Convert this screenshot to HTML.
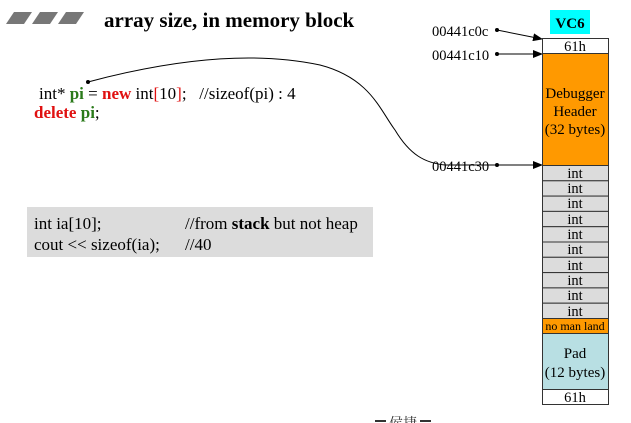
<!DOCTYPE html>
<html><head><meta charset="utf-8"><style>
html,body{margin:0;padding:0;background:#fff;width:631px;height:423px;overflow:hidden}
svg{display:block}
text{font-family:"Liberation Serif","Noto Serif CJK SC",serif;white-space:pre}
</style></head><body>
<svg width="631" height="423" viewBox="0 0 631 423" xmlns="http://www.w3.org/2000/svg">
<defs><marker id="ah" markerWidth="10" markerHeight="8" refX="9" refY="4" orient="auto" markerUnits="userSpaceOnUse"><path d="M0,0 L10,4 L0,8 Z" fill="#000"/></marker></defs>
<polygon points="6,24 14,12 32,12 24,24" fill="#777"/>
<polygon points="32,24 40,12 58,12 50,24" fill="#777"/>
<polygon points="58,24 66,12 84,12 76,24" fill="#777"/>
<text x="104" y="27" font-size="21" font-weight="bold">array size, in memory block</text>
<text x="39" y="99" font-size="17" xml:space="preserve">int* <tspan fill="#2a7a1a" font-weight="bold">pi</tspan> = <tspan fill="#e01010" font-weight="bold">new</tspan> int<tspan fill="#e01010">[</tspan>10<tspan fill="#e01010">]</tspan>;   //sizeof(pi) : 4</text>
<text x="34" y="118" font-size="17"><tspan fill="#e01010" font-weight="bold">delete</tspan> <tspan fill="#2a7a1a" font-weight="bold">pi</tspan>;</text>
<path d="M88,82 C170,60 250,50 320,65 C370,78 380,110 395,130 C410,155 425,163 445,165 L542,165" fill="none" stroke="#000" stroke-width="1" marker-end="url(#ah)"/>
<circle cx="88" cy="82" r="2" fill="#000"/>
<rect x="27" y="207" width="346" height="50" fill="#dcdcdc"/>
<text x="34" y="229" font-size="17">int ia[10];</text>
<text x="185" y="229" font-size="17">//from <tspan font-weight="bold">stack</tspan> but not heap</text>
<text x="34" y="250" font-size="17">cout &lt;&lt; sizeof(ia);</text>
<text x="185" y="250" font-size="17">//40</text>
<rect x="550" y="10" width="40" height="24" fill="#00ffff"/>
<text x="570" y="28" font-size="15" font-weight="bold" text-anchor="middle">VC6</text>
<text x="432" y="36" font-size="14.5">00441c0c</text>
<circle cx="497" cy="30" r="2" fill="#000"/>
<line x1="497" y1="30" x2="542" y2="39" stroke="#000" marker-end="url(#ah)"/>
<text x="432" y="60" font-size="14.5">00441c10</text>
<circle cx="497" cy="54" r="2" fill="#000"/>
<line x1="497" y1="54" x2="542" y2="54" stroke="#000" marker-end="url(#ah)"/>
<text x="432" y="171" font-size="14.5">00441c30</text>
<circle cx="497" cy="165" r="2" fill="#000"/>
<g stroke="#333" stroke-width="1">
<rect x="542.5" y="38.5" width="66" height="15" fill="#fff"/>
<rect x="542.5" y="53.5" width="66" height="112" fill="#ff9900"/>
<rect x="542.5" y="165.5" width="66" height="15.3" fill="#dcdcdc"/>
<rect x="542.5" y="180.8" width="66" height="15.3" fill="#dcdcdc"/>
<rect x="542.5" y="196.1" width="66" height="15.3" fill="#dcdcdc"/>
<rect x="542.5" y="211.4" width="66" height="15.3" fill="#dcdcdc"/>
<rect x="542.5" y="226.7" width="66" height="15.3" fill="#dcdcdc"/>
<rect x="542.5" y="242" width="66" height="15.3" fill="#dcdcdc"/>
<rect x="542.5" y="257.3" width="66" height="15.3" fill="#dcdcdc"/>
<rect x="542.5" y="272.6" width="66" height="15.3" fill="#dcdcdc"/>
<rect x="542.5" y="287.9" width="66" height="15.3" fill="#dcdcdc"/>
<rect x="542.5" y="303.2" width="66" height="15.3" fill="#dcdcdc"/>
<rect x="542.5" y="318.5" width="66" height="15" fill="#ff9900"/>
<rect x="542.5" y="333.5" width="66" height="56" fill="#b8dfe3"/>
<rect x="542.5" y="389.5" width="66" height="15" fill="#fff"/>
</g>
<g font-size="14.5" text-anchor="middle">
<text x="575" y="51">61h</text>
<text x="575" y="98" font-size="15">Debugger</text>
<text x="575" y="116" font-size="15">Header</text>
<text x="575" y="134" font-size="15">(32 bytes)</text>
<text x="575" y="178">int</text>
<text x="575" y="193">int</text>
<text x="575" y="208">int</text>
<text x="575" y="224">int</text>
<text x="575" y="239">int</text>
<text x="575" y="254">int</text>
<text x="575" y="270">int</text>
<text x="575" y="285">int</text>
<text x="575" y="300">int</text>
<text x="575" y="316">int</text>
<text x="575" y="330" font-size="12">no man land</text>
<text x="575" y="358" font-size="15">Pad</text>
<text x="575" y="377" font-size="15">(12 bytes)</text>
<text x="575" y="402">61h</text>
</g>
<line x1="375" y1="421" x2="386" y2="421" stroke="#333" stroke-width="2"/>
<line x1="420" y1="421" x2="431" y2="421" stroke="#333" stroke-width="2"/>
<text x="403" y="428" font-size="14" text-anchor="middle" fill="#333">侯捷</text>
</svg>
</body></html>
